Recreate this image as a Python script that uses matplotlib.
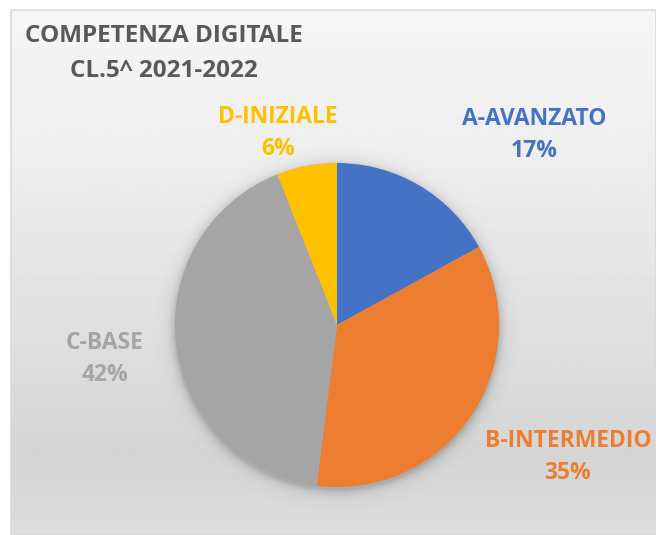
import numpy as np
import matplotlib
matplotlib.use("Agg")
import matplotlib.pyplot as plt
from matplotlib.patches import Rectangle

# data
categories = ["A-AVANZATO", "B-INTERMEDIO", "C-BASE", "D-INIZIALE"]
percent = [17, 35, 42, 6]
colors = ["#4472c4", "#ed7d31", "#a5a5a5", "#ffc000"]
title_lines = ["COMPETENZA DIGITALE", "CL.5^ 2021-2022"]

W, H = 656, 535
plt.rcParams["font.family"] = ["Open Sans", "DejaVu Sans"]

fig = plt.figure(figsize=(W / 100, H / 100), dpi=100)
ax = fig.add_axes([0, 0, 1, 1])

# chart area with vertical gradient
y = np.linspace(0, 1, 300)  # 0 = top
stops_y = [0.0, 0.3, 0.85, 1.0]
stops_c = [0.965, 0.93, 0.835, 0.865]
g = np.interp(y, stops_y, stops_c)
grad = np.repeat(g[:, None], 2, axis=1)
ax.imshow(grad, cmap="gray", vmin=0, vmax=1, extent=[11, W, 0, H - 10],
          aspect="auto", origin="upper", zorder=0)
ax.add_patch(Rectangle((11, 0), W - 11, H - 10, fill=False,
                       edgecolor="#d9d9d9", lw=1.2, zorder=1))

# pie geometry (pixels, y up)
cx, cy, r = 337, H - 325, 162

# soft shadow
xs = np.arange(cx - r - 30, cx + r + 30)
ys = np.arange(cy - r - 30, cy + r + 30)
X, Y = np.meshgrid(xs, ys)
d = np.hypot(X - cx, Y - (cy - 3))
alpha = np.clip(0.35 * np.exp(-np.clip(d - r, 0, None) / 5.0), 0, 0.35)
shadow = np.zeros(X.shape + (4,))
shadow[..., :3] = 0.35
shadow[..., 3] = alpha
ax.imshow(shadow, extent=[xs[0], xs[-1], ys[0], ys[-1]], origin="lower",
          zorder=2, interpolation="bilinear")

ax.pie(percent, colors=colors, startangle=90, counterclock=False,
       center=(cx, cy), radius=r, frame=True,
       wedgeprops=dict(linewidth=0, zorder=3))
ax.set_xlim(0, W)
ax.set_ylim(0, H)
ax.set_aspect("equal")
ax.axis("off")

# title
ax.text(164, H - 36, title_lines[0], ha="center", va="center",
        fontsize=17.5, fontweight="bold", color="#595959", zorder=5)
ax.text(164, H - 71, title_lines[1], ha="center", va="center",
        fontsize=17.5, fontweight="bold", color="#595959", zorder=5)

# data labels
label_pos = [(534, 119), (568, 441), (105, 343), (278, 117)]
for name, p, c, (lx, ly) in zip(categories, percent, colors, label_pos):
    ax.text(lx, H - ly, name, ha="center", va="center", fontsize=16.5,
            fontweight="bold", color=c, zorder=5)
    ax.text(lx, H - ly - 32, f"{p}%", ha="center", va="center", fontsize=16.5,
            fontweight="bold", color=c, zorder=5)

fig.savefig("out.png", dpi=100)
